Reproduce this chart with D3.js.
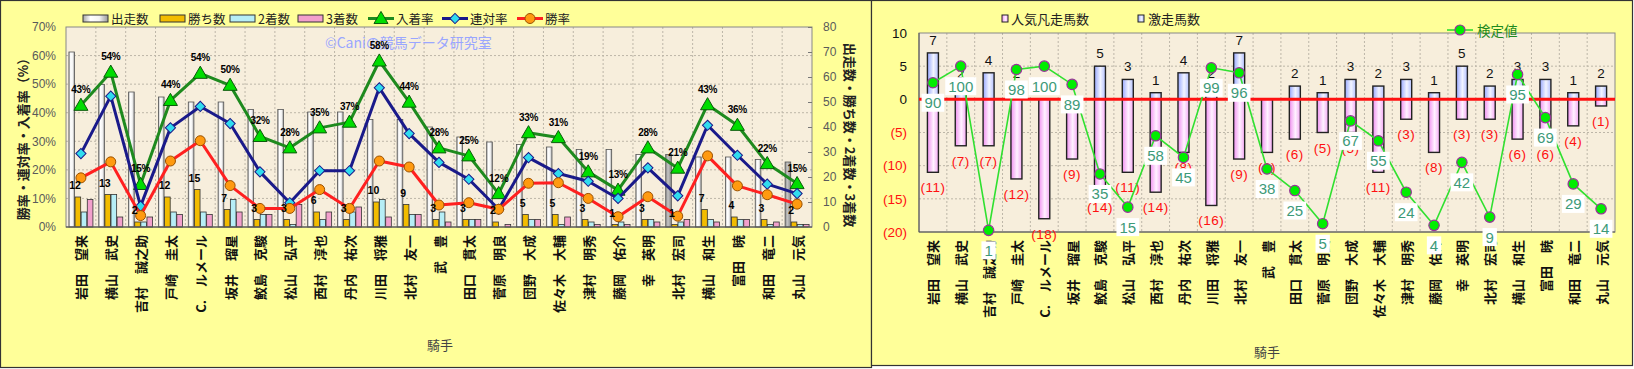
<!DOCTYPE html>
<html><head><meta charset="utf-8">
<script src="https://cdn.jsdelivr.net/npm/d3@7"></script>
<style>body{margin:0;background:#fff}svg{display:block}</style>
</head><body>
<svg id="c" width="1634" height="369"></svg>
<script>
// ---------- DATA ----------
const jockeys = ["岩田　望来","横山　武史","吉村　誠之助","戸崎　圭太","C.　ルメール","坂井　瑠星","鮫島　克駿","松山　弘平","西村　淳也","丹内　祐次","川田　将雅","北村　友一","武　豊","田口　貫太","菅原　明良","団野　大成","佐々木　大輔","津村　明秀","藤岡　佑介","幸　英明","北村　宏司","横山　和生","富田　暁","和田　竜二","丸山　元気"];
const starts  = [70,57,54,52,50,50,47,47,46,46,43,43,40,36,34,33,32,31,31,29,29,28,28,27,26];
const wins    = [12,13,2,12,15,7,3,3,6,3,10,9,3,3,2,5,5,3,1,3,1,7,4,3,2];
const seconds = [6,13,2,6,6,11,5,1,3,6,11,5,6,3,0,3,1,2,2,3,2,3,3,1,1];
const thirds  = [11,4,4,5,5,6,5,9,6,8,4,5,2,3,1,3,4,1,1,2,3,2,3,2,1];
const top3Rate = [42.6,54.2,14.9,44.3,53.8,49.6,31.7,27.7,34.7,36.7,58.1,43.7,27.7,24.9,11.7,33.0,31.3,19.3,12.9,27.7,20.6,42.8,35.6,22.2,15.2];
const top2Rate = [25.7,45.8,7.3,34.7,42.2,36.2,19.3,8.5,19.7,19.7,48.7,32.7,22.6,16.7,6.2,24.3,18.7,16.0,10.0,20.7,10.9,35.6,25.1,15.0,11.7];
const winRate  = [17.2,22.8,4.0,23.1,30.2,14.5,6.5,6.5,13.1,6.5,23.1,21.0,7.7,8.5,6.2,15.3,15.5,10.0,3.6,10.6,3.8,24.9,14.4,11.3,8.0];
const highlightedJockeys = ["北村　宏司","丸山　元気"];
const pctTicks = [0,10,20,30,40,50,60,70];
const cntTicks = [0,10,20,30,40,50,60,70,80];

const gekisou = [7,2,4,2,0,0,5,3,1,4,2,7,0,2,1,3,2,3,1,5,2,3,3,1,2];
const bonsou  = [11,7,7,12,18,9,14,11,14,8,16,9,8,6,5,5,11,3,8,3,3,6,6,4,1];
const kentei  = [90,100,1,98,100,89,35,15,58,45,99,96,38,25,5,67,55,24,4,42,9,95,69,29,14];
const rTicks = [10,5,0,-5,-10,-15,-20];

// ---------- SETUP ----------
const svg = d3.select("#c");
const JP = "'Noto Sans CJK JP','Noto Sans',sans-serif";
const LS = "'Liberation Sans',Arial,sans-serif";
const defs = svg.append("defs");
function hgrad(id, stops){
  const g = defs.append("linearGradient").attr("id",id).attr("x1","0%").attr("x2","100%").attr("y1","0%").attr("y2","0%");
  stops.forEach(s=>g.append("stop").attr("offset",s[0]).attr("stop-color",s[1]));
}
hgrad("gStart",[["0%","#a8a8a8"],["30%","#ffffff"],["65%","#f4f4f4"],["100%","#9a9a9a"]]);
hgrad("gStartH",[["0%","#8a8a8a"],["40%","#c4c4c4"],["100%","#8a8a8a"]]);
hgrad("gBlue",[["0%","#98a8ff"],["55%","#f2f4ff"],["100%","#b4c0ff"]]);
hgrad("gPink",[["0%","#f090f0"],["55%","#fff2ff"],["100%","#f4a8f4"]]);

// panels
svg.append("rect").attr("x",0.5).attr("y",0.5).attr("width",871).attr("height",367).attr("fill","#ffff99").attr("stroke","#333").attr("stroke-width",1.2);
svg.append("rect").attr("x",871.5).attr("y",0.5).attr("width",761).attr("height",365).attr("fill","#ffff99").attr("stroke","#333").attr("stroke-width",1.2);

// ---------- LEFT CHART ----------
const L = {x0:66, x1:812, y0:27, y1:227};
const xL = d3.scaleBand().domain(jockeys).range([L.x0, L.x1]);
const yPct = d3.scaleLinear().domain([0,70]).range([L.y1, L.y0]);
const yCnt = d3.scaleLinear().domain([0,80]).range([L.y1, L.y0]);
const cxL = j => xL(j) + xL.bandwidth()/2;

const gl = svg.append("g");
gl.append("rect").attr("x",L.x0).attr("y",L.y0).attr("width",L.x1-L.x0).attr("height",L.y1-L.y0).attr("fill","#f7eedc");
gl.selectAll(".hg").data(pctTicks.slice(1,-1)).join("line")
  .attr("x1",L.x0).attr("x2",L.x1).attr("y1",d=>yPct(d)).attr("y2",d=>yPct(d))
  .attr("stroke","#bdb6a8").attr("stroke-dasharray","2,2");
gl.selectAll(".vg").data(jockeys.slice(1)).join("line")
  .attr("x1",d=>xL(d)).attr("x2",d=>xL(d)).attr("y1",L.y0).attr("y2",L.y1)
  .attr("stroke","#bdb6a8").attr("stroke-dasharray","2,2");

// bars
const subKeys = ["starts","wins","seconds","thirds"];
const subVals = {starts, wins, seconds, thirds};
const sub = d3.scaleBand().domain(subKeys).range([(xL.bandwidth()-24)/2,(xL.bandwidth()+24)/2]).paddingInner(0.08);
const fills = {starts:"url(#gStart)", wins:"#f2bc00", seconds:"#b6eef6", thirds:"#f2a0cc"};
subKeys.forEach(k=>{
  gl.selectAll(".b"+k).data(jockeys).join("rect")
    .attr("x",d=>xL(d)+sub(k)).attr("width",sub.bandwidth())
    .attr("y",(d,i)=>yCnt(subVals[k][i])).attr("height",(d,i)=>yCnt(0)-yCnt(subVals[k][i]))
    .attr("fill",d=> k==="starts" && highlightedJockeys.includes(d) ? "url(#gStartH)" : fills[k])
    .attr("stroke",k==="starts"?"#555":"#333").attr("stroke-width",0.8);
});

// plot border
gl.append("rect").attr("x",L.x0).attr("y",L.y0).attr("width",L.x1-L.x0).attr("height",L.y1-L.y0).attr("fill","none").attr("stroke","#888");
gl.append("line").attr("x1",L.x0).attr("x2",L.x1).attr("y1",L.y1).attr("y2",L.y1).attr("stroke","#444");

// lines
const lineSeries = [
  {vals: top3Rate, color:"#1e8a1e", mfill:"#00dd00", mstroke:"#0a5a0a", sym:"tri"},
  {vals: top2Rate, color:"#1a1a8a", mfill:"#30dcee", mstroke:"#1a1a8a", sym:"dia"},
  {vals: winRate,  color:"#ff2020", mfill:"#ff9a10", mstroke:"#9a5000", sym:"cir"}
];
function marker(g, sym, x, y, fill, stroke){
  if(sym==="tri") g.append("path").attr("d",d3.symbol(d3.symbolTriangle).size(85)()).attr("transform",`translate(${x},${y+1})`).attr("fill",fill).attr("stroke",stroke).attr("stroke-width",1);
  else if(sym==="dia") g.append("path").attr("d",d3.symbol(d3.symbolSquare).size(52)()).attr("transform",`translate(${x},${y}) rotate(45)`).attr("fill",fill).attr("stroke",stroke).attr("stroke-width",1);
  else g.append("circle").attr("cx",x).attr("cy",y).attr("r",5).attr("fill",fill).attr("stroke",stroke).attr("stroke-width",1);
}
lineSeries.forEach(s=>{
  const line = d3.line().x((d,i)=>cxL(jockeys[i])).y(d=>yPct(d));
  gl.append("path").attr("d",line(s.vals)).attr("fill","none").attr("stroke",s.color).attr("stroke-width",3).attr("stroke-linejoin","round");
  s.vals.forEach((v,i)=>marker(gl,s.sym,cxL(jockeys[i]),yPct(v),s.mfill,s.mstroke));
});

// watermark
gl.append("text").attr("x",325).attr("y",48).attr("font-family",JP).attr("font-size",14).attr("fill","#9aa6ff").text("©Caniの競馬データ研究室");

// labels
gl.selectAll(".pl").data(jockeys).join("text")
  .attr("x",d=>cxL(d)).attr("y",(d,i)=>yPct(top3Rate[i])-12)
  .attr("text-anchor","middle").attr("font-family",LS).attr("font-weight","bold").attr("font-size",10).attr("letter-spacing",-0.3)
  .text((d,i)=>Math.round(top3Rate[i])+"%");
gl.selectAll(".wl").data(jockeys).join("text")
  .attr("x",d=>xL(d)+sub("wins")).attr("y",(d,i)=>yCnt(wins[i])-8)
  .attr("text-anchor","middle").attr("font-family",LS).attr("font-weight","bold").attr("font-size",10.5)
  .text((d,i)=>wins[i]);

// axes
const axL = gl.append("g").attr("transform",`translate(${L.x0},0)`)
  .call(d3.axisLeft(yPct).tickValues(pctTicks).tickFormat(d=>d+"%").tickSize(0).tickPadding(10));
axL.select(".domain").remove();
axL.selectAll("text").attr("font-family",LS).attr("font-size",12).attr("fill","#5a5a5a");
const axR = gl.append("g").attr("transform",`translate(${L.x1},0)`)
  .call(d3.axisRight(yCnt).tickValues(cntTicks).tickSizeInner(-4).tickSizeOuter(0).tickPadding(10));
axR.select(".domain").remove();
axR.selectAll("line").attr("stroke","#777");
axR.selectAll("text").attr("x",11).attr("font-family",LS).attr("font-size",12).attr("fill","#5a5a5a");

// x labels
gl.selectAll(".xl").data(jockeys).join("text")
  .attr("transform",d=>`translate(${cxL(d)},${L.y1+8}) rotate(-90)`)
  .attr("text-anchor","end").attr("dominant-baseline","central")
  .attr("font-family",JP).attr("font-weight","bold").attr("font-size",13).attr("fill","#111")
  .text(d=>d);

// axis titles
gl.append("text").attr("transform",`translate(22,136) rotate(-90)`).attr("text-anchor","middle").attr("dominant-baseline","central")
  .attr("font-family",JP).attr("font-weight","bold").attr("font-size",13).attr("fill","#222").text("勝率・連対率・入着率（%）");
gl.append("text").attr("transform",`translate(850,135) rotate(90)`).attr("text-anchor","middle").attr("dominant-baseline","central")
  .attr("font-family",JP).attr("font-weight","bold").attr("font-size",13).attr("fill","#222").text("出走数・勝ち数・2着数・3着数");
gl.append("text").attr("x",440).attr("y",350).attr("text-anchor","middle").attr("font-family",JP).attr("font-size",13).attr("fill","#444").text("騎手");

// legend left
const legL = [
  {t:"出走数", x:83, type:"rect", fill:"url(#gStart)"},
  {t:"勝ち数", x:160, type:"rect", fill:"#f2bc00"},
  {t:"2着数", x:230, type:"rect", fill:"#b6eef6"},
  {t:"3着数", x:298, type:"rect", fill:"#f2a0cc"},
  {t:"入着率", x:368, type:"line", s:lineSeries[0]},
  {t:"連対率", x:442, type:"line", s:lineSeries[1]},
  {t:"勝率", x:517, type:"line", s:lineSeries[2]}
];
legL.forEach(l=>{
  if(l.type==="rect") gl.append("rect").attr("x",l.x).attr("y",15).attr("width",25).attr("height",7).attr("fill",l.fill).attr("stroke","#333").attr("stroke-width",1);
  else {
    gl.append("line").attr("x1",l.x).attr("x2",l.x+26).attr("y1",18.5).attr("y2",18.5).attr("stroke",l.s.color).attr("stroke-width",3);
    marker(gl,l.s.sym,l.x+13,18.5,l.s.mfill,l.s.mstroke);
  }
  gl.append("text").attr("x",l.x+28).attr("y",18.5).attr("dominant-baseline","central").attr("font-family",JP).attr("font-size",12.5).attr("fill","#222").text(l.t);
});

// ---------- RIGHT CHART ----------
const R = {x0:919, x1:1615, y0:33, y1:232};
const xR = d3.scaleBand().domain(jockeys).range([R.x0,R.x1]);
const yR = d3.scaleLinear().domain([-20,10]).range([R.y1,R.y0]);
const yK = d3.scaleLinear().domain([0,120]).range([R.y1,R.y0]);
const cxR = j => xR(j) + xR.bandwidth()/2;
const gr = svg.append("g");
gr.append("rect").attr("x",R.x0).attr("y",R.y0).attr("width",R.x1-R.x0).attr("height",R.y1-R.y0).attr("fill","#f7eedc");
gr.selectAll(".hg").data(rTicks.slice(1,-1)).join("line")
  .attr("x1",R.x0).attr("x2",R.x1).attr("y1",d=>yR(d)).attr("y2",d=>yR(d))
  .attr("stroke","#bdb6a8").attr("stroke-dasharray","2,2");
gr.selectAll(".vg").data(jockeys.slice(1)).join("line")
  .attr("x1",d=>xR(d)).attr("x2",d=>xR(d)).attr("y1",R.y0).attr("y2",R.y1)
  .attr("stroke","#bdb6a8").attr("stroke-dasharray","2,2");

const bw = 11;
// pink bars (negative)
gr.selectAll(".pb").data(jockeys).join("rect")
  .attr("x",d=>cxR(d)-bw/2).attr("width",bw)
  .attr("y",yR(0)).attr("height",(d,i)=>yR(-bonsou[i])-yR(0))
  .attr("fill","url(#gPink)").attr("stroke","#222").attr("stroke-width",1.4);
// blue bars
gr.selectAll(".bb").data(jockeys.filter((d,i)=>gekisou[i]>0)).join("rect")
  .attr("x",d=>cxR(d)-bw/2).attr("width",bw)
  .attr("y",d=>yR(gekisou[jockeys.indexOf(d)])).attr("height",d=>yR(0)-yR(gekisou[jockeys.indexOf(d)]))
  .attr("fill","url(#gBlue)").attr("stroke","#222").attr("stroke-width",1.4);

gr.append("rect").attr("x",R.x0).attr("y",R.y0).attr("width",R.x1-R.x0).attr("height",R.y1-R.y0).attr("fill","none").attr("stroke","#888");
gr.append("line").attr("x1",R.x0).attr("x2",R.x1).attr("y1",R.y1).attr("y2",R.y1).attr("stroke","#555");
gr.append("line").attr("x1",R.x0).attr("x2",R.x0).attr("y1",R.y0).attr("y2",R.y1).attr("stroke","#555");
// zero line
gr.append("line").attr("x1",R.x0).attr("x2",R.x1).attr("y1",yR(0)).attr("y2",yR(0)).attr("stroke","#ff1010").attr("stroke-width",3);

// bar labels
gr.selectAll(".bl").data(jockeys.filter((d,i)=>gekisou[i]>0)).join("text")
  .attr("x",d=>cxR(d)).attr("y",d=>yR(gekisou[jockeys.indexOf(d)])-8)
  .attr("text-anchor","middle").attr("font-family",LS).attr("font-size",13.5).attr("fill","#111")
  .text(d=>gekisou[jockeys.indexOf(d)]);
gr.selectAll(".pl").data(jockeys).join("text")
  .attr("x",d=>cxR(d)).attr("y",(d,i)=>yR(-bonsou[i])+20)
  .attr("text-anchor","middle").attr("font-family",LS).attr("font-size",13.5).attr("fill","#ff1010").attr("letter-spacing",0.5)
  .text((d,i)=>"("+bonsou[i]+")");

// axis
const axRL = gr.append("g").attr("transform",`translate(${R.x0},0)`)
  .call(d3.axisLeft(yR).tickValues(rTicks).tickFormat(d=>d<0?"("+(-d)+")":d).tickSize(0).tickPadding(12));
axRL.select(".domain").remove();
axRL.selectAll("text").attr("font-family",LS).attr("font-size",13.5).attr("fill",d=>d<0?"#ff1010":"#111");

// x labels
gr.selectAll(".xl").data(jockeys).join("text")
  .attr("transform",d=>`translate(${cxR(d)},${R.y1+8}) rotate(-90)`)
  .attr("text-anchor","end").attr("dominant-baseline","central")
  .attr("font-family",JP).attr("font-weight","bold").attr("font-size",13).attr("fill","#111")
  .text(d=>d);
gr.append("text").attr("x",1267).attr("y",357).attr("text-anchor","middle").attr("font-family",JP).attr("font-size",13).attr("fill","#444").text("騎手");

// kentei line
const kLine = d3.line().x((d,i)=>cxR(jockeys[i])).y(d=>yK(d));
gr.append("path").attr("d",kLine(kentei)).attr("fill","none").attr("stroke","#30e030").attr("stroke-width",1.6);
gr.selectAll(".kp").data(jockeys).join("circle")
  .attr("cx",d=>cxR(d)).attr("cy",(d,i)=>yK(kentei[i])).attr("r",5.2)
  .attr("fill","#00ee00").attr("stroke","#993399").attr("stroke-width",1.2);
// kentei labels
jockeys.forEach((j,i)=>{
  const g = gr.append("g");
  const t = g.append("text").attr("x",cxR(j)).attr("y",yK(kentei[i])+20).attr("text-anchor","middle").attr("dominant-baseline","central")
    .attr("font-family",LS).attr("font-size",15).attr("fill","#3d9a78").text(kentei[i]);
  const w = t.node().getComputedTextLength();
  g.insert("rect","text").attr("x",cxR(j)-w/2-3).attr("y",yK(kentei[i])+20-9).attr("width",w+6).attr("height",18).attr("fill","#fff");
});

// right legend
gr.append("rect").attr("x",1002).attr("y",15).attr("width",6).attr("height",7).attr("fill","url(#gPink)").attr("stroke","#222");
gr.append("text").attr("x",1011).attr("y",18.5).attr("dominant-baseline","central").attr("font-family",JP).attr("font-size",13).attr("fill","#222").text("人気凡走馬数");
gr.append("rect").attr("x",1138).attr("y",15).attr("width",6).attr("height",7).attr("fill","url(#gBlue)").attr("stroke","#222");
gr.append("text").attr("x",1148).attr("y",18.5).attr("dominant-baseline","central").attr("font-family",JP).attr("font-size",13).attr("fill","#222").text("激走馬数");
gr.append("line").attr("x1",1447).attr("x2",1473).attr("y1",30).attr("y2",30).attr("stroke","#30e030").attr("stroke-width",1.6);
gr.append("circle").attr("cx",1460).attr("cy",30).attr("r",5).attr("fill","#00ee00").attr("stroke","#993399").attr("stroke-width",1.2);
gr.append("text").attr("x",1477).attr("y",30).attr("dominant-baseline","central").attr("font-family",JP).attr("font-size",13.5).attr("fill","#1e8a1e").text("検定値");
</script>
</body></html>
